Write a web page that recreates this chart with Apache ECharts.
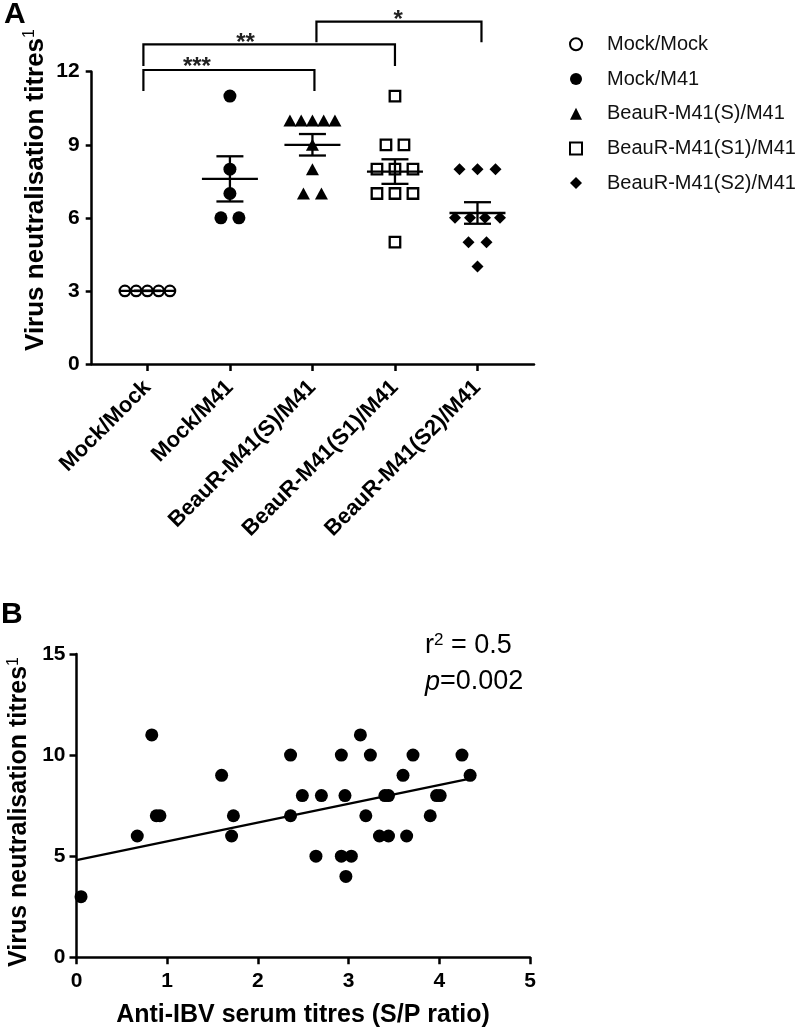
<!DOCTYPE html>
<html><head><meta charset="utf-8">
<script src="https://cdn.jsdelivr.net/npm/echarts@6/dist/echarts.min.js"></script>
<style>html,body{margin:0;padding:0;background:#fff}#c{width:800px;height:1034px}</style>
</head><body><div id="c"></div>
<script>
// ---------- Panel A data ----------
const groups = ['Mock/Mock','Mock/M41','BeauR-M41(S)/M41','BeauR-M41(S1)/M41','BeauR-M41(S2)/M41'];
const mockMock = [3,3,3,3,3];
const mockM41 = [11,8,7,6,6];
const beauS = [10,10,10,10,10,9,8,7,7];
const beauS1 = [11,9,9,8,8,8,7,7,7,5];
const beauS2 = [8,8,8,6,6,6,6,5,5,4];
const yTicksA = [0,3,6,9,12];
const sigLabels = ['***','**','*'];
const sigPairs = [[0,2],[0,3],[2,4]];

// ---------- Panel B data ----------
const serumSP = [0.05,0.67,0.83,0.88,0.92,1.60,1.73,1.71,2.36,2.36,2.49,2.64,2.70,2.92,2.96,2.92,3.03,2.97,3.13,3.24,3.19,3.34,3.44,3.40,3.44,3.60,3.71,3.64,3.90,3.97,4.01,4.25,4.34];
const neutTitre = [3,6,11,7,7,9,7,6,10,7,8,5,8,10,8,5,5,4,11,10,7,6,6,8,8,9,10,6,7,8,8,10,9];
const fitX = [0, 4.34];
const fitY = [4.8, 8.84];
const rSquared = '0.5';
const pValue = '0.002';
const xTicksB = [0,1,2,3,4,5];
const yTicksB = [0,5,10,15];

// ---------- layout / style ----------
const FONT = "'Liberation Sans', Arial, sans-serif";
const AX = '#000';
const gridA = {left:91.7, top:71.7, width:442.3, height:292.3};
const xMinA = -0.675, xMaxA = 4.685;
const pxPerCat = gridA.width/(xMaxA - xMinA);

function spread(vals, idx){
  const counts = {}; vals.forEach(v => counts[v] = (counts[v]||0) + 1);
  const seen = {};
  return vals.map(v => {
    const n = counts[v];
    const k = (seen[v] = (seen[v]||0) + 1) - 1;
    const sp = n > 1 ? Math.min(18, 45/(n-1)) : 0;
    return [idx + (k - (n-1)/2)*sp/pxPerCat, v];
  });
}
function meanSem(vals){
  const n = vals.length, m = vals.reduce((a,b)=>a+b,0)/n;
  const sd = Math.sqrt(vals.reduce((a,b)=>a+(b-m)*(b-m),0)/(n-1));
  return [m, sd/Math.sqrt(n)];
}
const allGroups = [mockMock, mockM41, beauS, beauS1, beauS2];
const summary = allGroups.map((g,i) => { const ms = meanSem(g); return [i, ms[0], ms[1]]; });

const symbols = [
  {symbol:'circle', size:10.5, itemStyle:{color:'#fff', borderColor:'#000', borderWidth:2.3, opacity:1}},
  {symbol:'circle', size:13, itemStyle:{color:'#000', opacity:1}},
  {symbol:'triangle', size:[13,12], itemStyle:{color:'#000', opacity:1}},
  {symbol:'rect', size:10.5, itemStyle:{color:'#fff', borderColor:'#000', borderWidth:2.3, opacity:1}},
  {symbol:'diamond', size:12, itemStyle:{color:'#000', opacity:1}}
];

const chart = echarts.init(document.getElementById('c'), null, {renderer:'canvas'});

const seriesA = allGroups.map((g,i) => ({
  name: groups[i], type:'scatter', xAxisIndex:0, yAxisIndex:0,
  symbol: symbols[i].symbol, symbolSize: symbols[i].size,
  itemStyle: symbols[i].itemStyle, data: spread(g, i), z:2,
  emphasis:{disabled:true}
}));

const option = {
  animation:false,
  textStyle:{fontFamily:FONT},
  legend:{
    orient:'vertical', left:569, top:34.3, padding:0, itemWidth:12, itemHeight:12, itemGap:14.7,
    selectedMode:false, data: groups,
    textStyle:{fontSize:20, lineHeight:20, color:'#111', fontFamily:FONT, padding:[0,0,0,20]}
  },
  grid:[
    gridA,
    {left:76.5, top:654, width:453.5, height:303.3}
  ],
  xAxis:[
    {gridIndex:0, type:'value', min:xMinA, max:xMaxA,
     axisLine:{show:true, onZero:false, lineStyle:{color:AX, width:2.5}},
     axisTick:{show:true, customValues:[0,1,2,3,4], length:7, lineStyle:{color:AX, width:2.5}},
     axisLabel:{show:true, customValues:[0,1,2,3,4], formatter:v => groups[Math.round(v)],
       rotate:45, fontWeight:'bold', fontSize:22, color:'#000', margin:20, fontFamily:FONT},
     splitLine:{show:false}},
    {gridIndex:1, type:'value', min:0, max:5, interval:1,
     axisLine:{show:true, onZero:false, lineStyle:{color:AX, width:2.5}},
     axisTick:{show:true, length:7, lineStyle:{color:AX, width:2.5}},
     axisLabel:{fontWeight:'bold', fontSize:21, color:'#000', margin:13, fontFamily:FONT},
     splitLine:{show:false}}
  ],
  yAxis:[
    {gridIndex:0, type:'value', min:0, max:12, interval:3,
     axisLine:{show:true, onZero:false, lineStyle:{color:AX, width:2.5}},
     axisTick:{show:true, length:6, lineStyle:{color:AX, width:2.5}},
     axisLabel:{fontWeight:'bold', fontSize:21, color:'#000', margin:12, fontFamily:FONT},
     splitLine:{show:false}},
    {gridIndex:1, type:'value', min:0, max:15, interval:5,
     axisLine:{show:true, onZero:false, lineStyle:{color:AX, width:2.5}},
     axisTick:{show:true, length:7, lineStyle:{color:AX, width:2.5}},
     axisLabel:{fontWeight:'bold', fontSize:21, color:'#000', margin:11, fontFamily:FONT},
     splitLine:{show:false}}
  ],
  series: seriesA.concat([
    {type:'custom', xAxisIndex:0, yAxisIndex:0, z:5, data: summary, silent:true,
     renderItem(params, api){
       const x = api.value(0), m = api.value(1), s = api.value(2);
       const c = api.coord([x,m]), hi = api.coord([x,m+s]), lo = api.coord([x,m-s]);
       const st = {stroke:'#000', lineWidth:2.3, fill:null};
       return {type:'group', children:[
         {type:'line', shape:{x1:c[0]-28, y1:c[1], x2:c[0]+28, y2:c[1]}, style:st},
         {type:'line', shape:{x1:c[0], y1:hi[1], x2:c[0], y2:lo[1]}, style:st},
         {type:'line', shape:{x1:c[0]-13.5, y1:hi[1], x2:c[0]+13.5, y2:hi[1]}, style:st},
         {type:'line', shape:{x1:c[0]-13.5, y1:lo[1], x2:c[0]+13.5, y2:lo[1]}, style:st}
       ]};
     }},
    {type:'scatter', xAxisIndex:1, yAxisIndex:1, symbol:'circle', symbolSize:13,
     itemStyle:{color:'#000', opacity:1}, data: serumSP.map((x,i)=>[x, neutTitre[i]]), emphasis:{disabled:true}},
    {type:'line', xAxisIndex:1, yAxisIndex:1, symbol:'none', silent:true,
     lineStyle:{color:'#000', width:2.3}, data: fitX.map((x,i)=>[x, fitY[i]])}
  ])
};
chart.setOption(option);

// ---------- annotations ----------
const catPx = i => chart.convertToPixel({xAxisIndex:0, yAxisIndex:0}, [i, 0])[0];
const bracketGeom = [
  {y:70, drop:91, dx0:-4, dx1:2, lab:0.6, labY:61},
  {y:44.3, drop:66, dx0:-4, dx1:0, lab:1.19, labY:37.7},
  {y:21.7, drop:42.3, dx0:4, dx1:4, lab:3.04, labY:14}
];
const g = [];
sigPairs.forEach((p, k) => {
  const b = bracketGeom[k];
  const x0 = catPx(p[0]) + b.dx0, x1 = catPx(p[1]) + b.dx1;
  g.push({type:'polyline', shape:{points:[[x0,b.drop],[x0,b.y],[x1,b.y],[x1,b.drop]]},
    style:{stroke:'#000', lineWidth:2.2, fill:null}});
  g.push({type:'text', x: catPx(b.lab), y: b.labY + 6,
    style:{text: sigLabels[k], font:'bold 24px ' + FONT, fill:'#222', align:'center', verticalAlign:'middle'}});
});
g.push({type:'text', x:4, y:0, style:{text:'A', font:'bold 30px ' + FONT, fill:'#000', verticalAlign:'top'}});
g.push({type:'text', x:1, y:600, style:{text:'B', font:'bold 30px ' + FONT, fill:'#000', verticalAlign:'top'}});
function yTitleRich(size){
  return {
    m:{fontSize:size, fontWeight:'bold', fontFamily:FONT, fill:'#000', lineHeight:size+2},
    s:{fontSize:Math.round(size*0.62), fontWeight:'normal', fontFamily:FONT, fill:'#000', lineHeight:Math.round(size*0.62), verticalAlign:'top'}
  };
}
g.push({type:'text', x:36, y:190, rotation:Math.PI/2,
  style:{text:'{m|Virus neutralisation titres}{s|1}', rich:yTitleRich(26), align:'center', verticalAlign:'middle'}});
g.push({type:'text', x:19, y:812, rotation:Math.PI/2,
  style:{text:'{m|Virus neutralisation titres}{s|1}', rich:yTitleRich(25), align:'center', verticalAlign:'middle'}});
g.push({type:'text', x:303, y:1015,
  style:{text:'Anti-IBV serum titres (S/P ratio)', font:'bold 25px ' + FONT, fill:'#000', align:'center', verticalAlign:'middle'}});
g.push({type:'text', x:425, y:646,
  style:{text:'{n|r}{s|2}{n| = ' + rSquared + '}', align:'left', verticalAlign:'middle',
    rich:{n:{fontSize:27, fontFamily:FONT, fill:'#000', lineHeight:28},
          s:{fontSize:17, fontFamily:FONT, fill:'#000', lineHeight:17, verticalAlign:'top'}}}});
g.push({type:'text', x:425, y:682,
  style:{text:'{i|p}{n|=' + pValue + '}', align:'left', verticalAlign:'middle',
    rich:{n:{fontSize:27, fontFamily:FONT, fill:'#000', lineHeight:28},
          i:{fontSize:27, fontFamily:FONT, fontStyle:'italic', fill:'#000', lineHeight:28}}}});
chart.setOption({graphic: g});
</script>
</body></html>
